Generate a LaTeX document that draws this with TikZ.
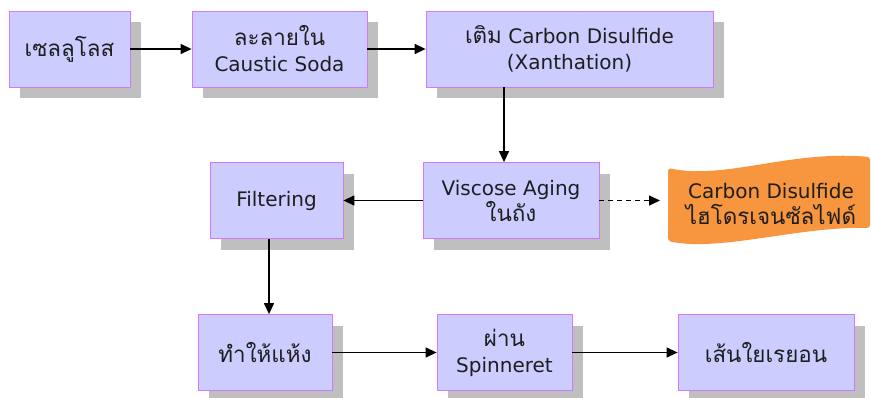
\documentclass[tikz,border=0pt]{standalone}
\usepackage{fontspec}
\setmainfont{DejaVu Sans}
\newfontfamily\thaifont[Script=Thai,Scale=1.12]{Loma}
\usetikzlibrary{arrows.meta,positioning,shadows}
\definecolor{boxfill}{RGB}{204,204,255}
\definecolor{boxline}{RGB}{210,120,250}
\definecolor{shade}{RGB}{191,191,191}
\definecolor{gasfill}{RGB}{247,150,62}
\definecolor{ink}{RGB}{30,30,30}
\newcommand{\thtxt}[1]{{\thaifont #1}}

\begin{document}
\begin{tikzpicture}[x=1pt,y=-1pt,
  blk/.style={draw=boxline,fill=boxfill,line width=0.8pt,minimum height=76pt,inner sep=2pt,font=\fontsize{20}{26}\selectfont,align=center,text=ink,
    drop shadow={shadow xshift=11pt,shadow yshift=-11pt,fill=shade,opacity=1}},
  arr/.style={-{Triangle[length=11pt,width=10pt]},line width=1.3pt},
  dasharr/.style={arr,dash pattern=on 5pt off 4pt}]
  \useasboundingbox (0,0) rectangle (871,397);
  % top row
  \node[blk,minimum width=121pt] (cell) at (69.5,49) {\thtxt{เซลลูโลส}};
  \node[blk,minimum width=175pt] (sol) at (279.5,49) {\thtxt{ละลายใน}\\Caustic Soda};
  \node[blk,minimum width=287pt] (xan) at (569.5,49) {\thtxt{เติม} Carbon Disulfide\\(Xanthation)};
  % middle row
  \node[blk,minimum width=176pt] (visc) at (511,200.5) {Viscose Aging\\\thtxt{ในถัง}};
  \node[blk,minimum width=133pt] (filt) at (276.5,200.5) {Filtering};
  \fill[gasfill,rounded corners=3pt] (668,168) .. controls (725,180) and (790,150) .. (870,157)
    -- (870,228) .. controls (800,226) and (720,252) .. (668,241) -- cycle;
  \node[font=\fontsize{20}{26}\selectfont,align=center,text=ink] (gas) at (771,204) {Carbon Disulfide\\\thtxt{ไฮโดรเจนซัลไฟด์}};
  \coordinate (gasin) at (660,200.5);
  % bottom row
  \node[blk,minimum width=134pt] (dry) at (265,352.5) {\thtxt{ทำให้แห้ง}};
  \node[blk,minimum width=135pt] (spin) at (504.5,352.5) {\thtxt{ผ่าน}\\Spinneret};
  \node[blk,minimum width=176pt] (fiber) at (766,352.5) {\thtxt{เส้นใยเรยอน}};
  % connectors
  \draw[arr] (cell) -- (sol);
  \draw[arr] (sol) -- (xan);
  \draw[arr] ([xshift=-7pt]visc.north |- xan.south) -- ([xshift=-7pt]visc.north);
  \draw[arr] (visc) -- (filt);
  \draw[dasharr] (visc) -- (gasin);
  \draw[arr] ([xshift=-7.5pt]filt.south) -- ([xshift=-7.5pt]filt.south |- dry.north);
  \draw[arr] (dry) -- (spin);
  \draw[arr] (spin) -- (fiber);
\end{tikzpicture}
\end{document}
